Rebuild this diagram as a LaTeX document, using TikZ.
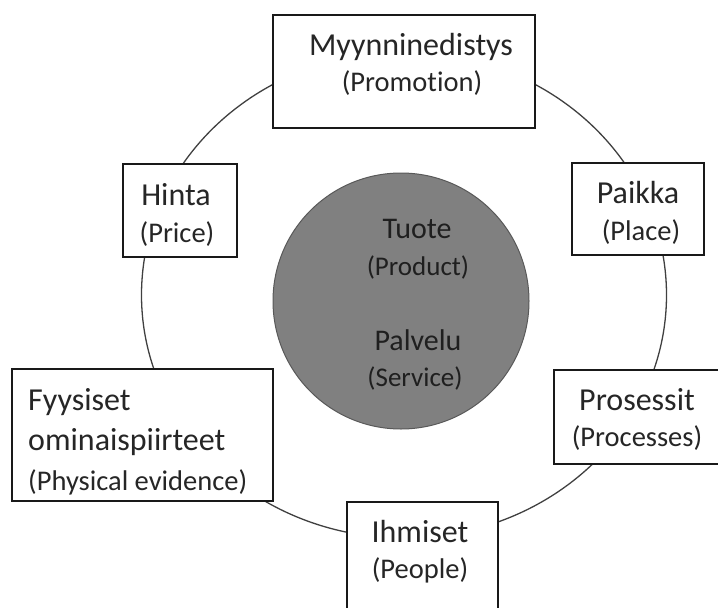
\documentclass[tikz,border=0pt]{standalone}
\usepackage{fontspec}
\setmainfont{Carlito}[Ligatures=NoCommon]
\begin{document}
\begin{tikzpicture}[x=1pt,y=-1pt,
  box/.style={draw=black!90, line width=1.8pt, fill=white, inner sep=0pt, rectangle},
  fi/.style={font=\fontsize{32}{38}\selectfont, text=black!85, inner sep=0pt, anchor=base},
  en/.style={font=\fontsize{28.5}{34}\selectfont, text=black!85, inner sep=0pt, anchor=base},
  fic/.style={font=\fontsize{30}{36}\selectfont, text=black!88, inner sep=0pt, anchor=base},
  enc/.style={font=\fontsize{27}{32}\selectfont, text=black!88, inner sep=0pt, anchor=base}]
\useasboundingbox (0,0) rectangle (718,608);
% outer ring
\draw[line width=1.3pt, draw=black!75] (404,295) ellipse [x radius=262.5pt, y radius=243pt];
% core circle
\node[circle, draw=black!65, fill=black!50, line width=1pt, minimum size=256pt, inner sep=0pt] (core) at (401,301) {};
\node[fic] (tuote) at (417,238) {Tuote};
\node[enc] (product) at (418,275) {(Product)};
\node[fic] (palvelu) at (418,350) {Palvelu};
\node[enc] (service) at (415,386) {(Service)};
% boxes
\node[box, minimum width=262pt, minimum height=113pt] (promo) at (404,71.5) {};
\node[fi] (promoA) at (411,55) {Myynninedistys};
\node[en] (promoB) at (412,91) {(Promotion)};

\node[box, minimum width=114pt, minimum height=93pt] (hinta) at (180,210.5) {};
\node[fi] (hintaA) at (176,205) {Hinta};
\node[en] (hintaB) at (177,242) {(Price)};

\node[box, minimum width=132pt, minimum height=92pt] (paikka) at (638,209) {};
\node[fi] (paikkaA) at (638,203) {Paikka};
\node[en] (paikkaB) at (641,240) {(Place)};

\node[box, minimum width=261pt, minimum height=132pt] (fyys) at (142.5,435) {};
\node[fi, anchor=base west] (fyysA) at (28,410) {Fyysiset};
\node[fi, anchor=base west] (fyysB) at (28,450) {ominaispiirteet};
\node[en, anchor=base west] (fyysC) at (28,490) {(Physical evidence)};

\node[box, minimum width=186pt, minimum height=94pt] (pros) at (647,417) {};
\node[fi] (prosA) at (637,410) {Prosessit};
\node[en] (prosB) at (637,446) {(Processes)};

\node[box, minimum width=151pt, minimum height=138pt] (ihm) at (422.5,571) {};
\node[fi] (ihmA) at (420,542) {Ihmiset};
\node[en] (ihmB) at (420,578) {(People)};
\end{tikzpicture}
\end{document}
